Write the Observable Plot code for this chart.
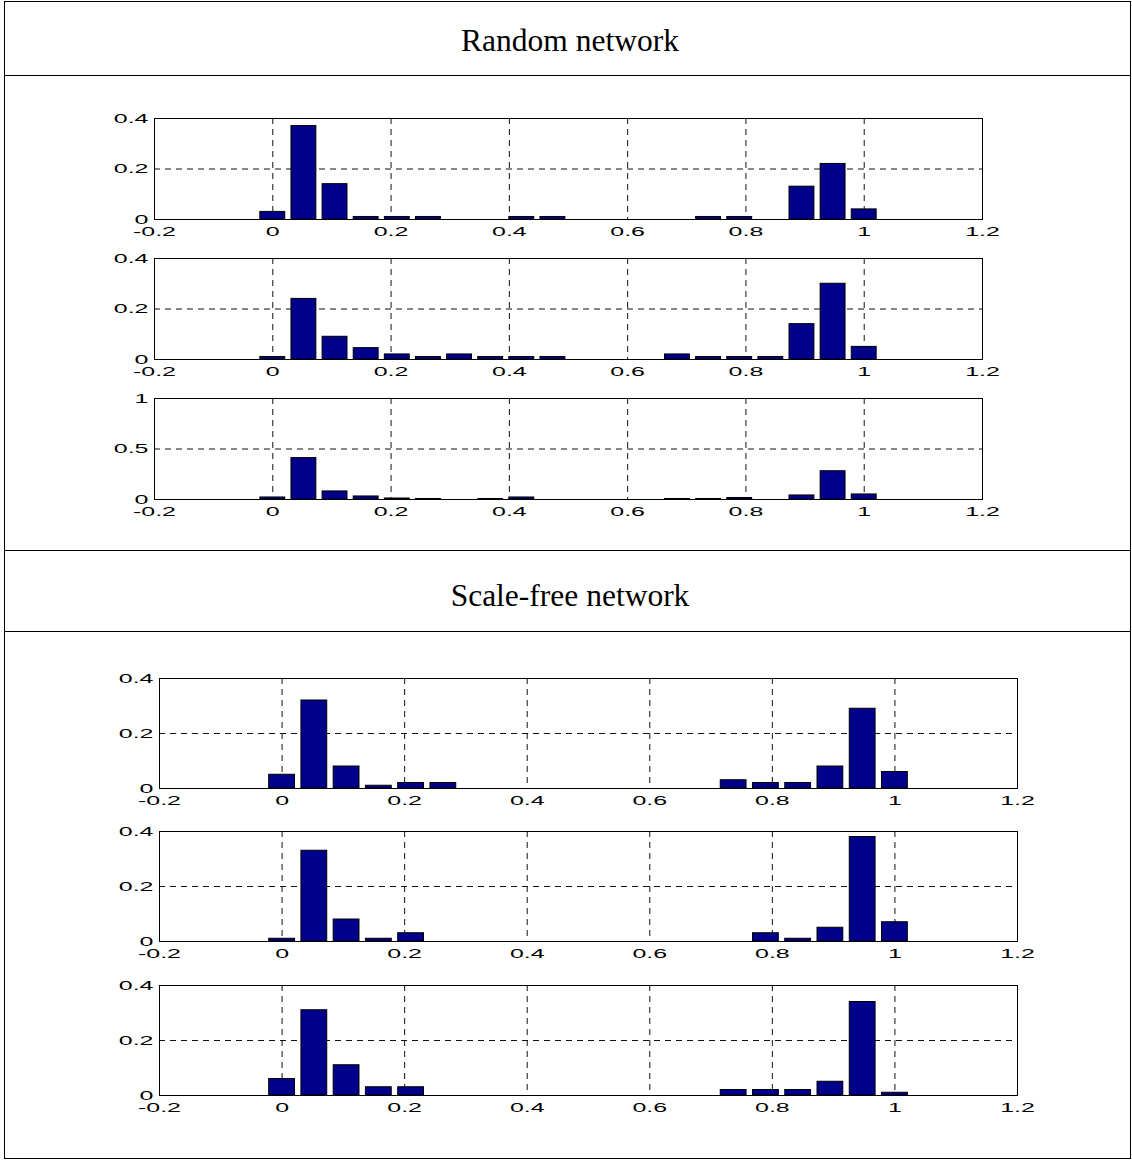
<!DOCTYPE html>
<html>
<head>
<meta charset="utf-8">
<script src="https://cdn.jsdelivr.net/npm/d3@7"></script>
<script src="https://cdn.jsdelivr.net/npm/@observablehq/plot@0.6"></script>
<style>
  html, body { margin: 0; padding: 0; background: white; }
  #page { position: relative; width: 1132px; height: 1160px; background: white; overflow: hidden; }
  .box { position: absolute; border: 1px solid black; box-sizing: border-box; }
  .hline { position: absolute; height: 0; border-top: 1px solid black; }
  .header { position: absolute; width: 1126px; left: 7px; text-align: center; line-height: 36px;
            font-family: "Liberation Serif", "Times New Roman", serif; font-size: 31.5px; color: black; }
  .panel { position: absolute; left: 0; }
</style>
</head>
<body>
<div id="page">
  <div class="box" style="left:4px; top:1px; width:1127px; height:1158px;"></div>
  <div class="hline" style="left:4px; width:1127px; top:75px;"></div>
  <div class="hline" style="left:4px; width:1127px; top:550px;"></div>
  <div class="hline" style="left:4px; width:1127px; top:631px;"></div>
  <div class="header" id="h1" style="top:23px;"></div>
  <div class="header" id="h2" style="top:578px;"></div>
</div>
<script>
// ---------- data ----------
const sectionTitles = ["Random network", "Scale-free network"];
// 20 histogram bins whose centres run from 0 to 1
const binCenters = d3.range(20).map(k => k / 19);

const randomNet1 = [0.03, 0.37, 0.14, 0.01, 0.01, 0.01, 0, 0, 0.01, 0.01, 0, 0, 0, 0, 0.01, 0.01, 0, 0.13, 0.22, 0.04];
const randomNet2 = [0.01, 0.24, 0.09, 0.045, 0.02, 0.01, 0.02, 0.01, 0.01, 0.01, 0, 0, 0, 0.02, 0.01, 0.01, 0.01, 0.14, 0.30, 0.05];
const randomNet3 = [0.02, 0.41, 0.08, 0.03, 0.01, 0.005, 0, 0.005, 0.02, 0, 0, 0, 0, 0.005, 0.005, 0.015, 0, 0.04, 0.28, 0.05];
const scaleFree1 = [0.05, 0.32, 0.08, 0.01, 0.02, 0.02, 0, 0, 0, 0, 0, 0, 0, 0, 0.03, 0.02, 0.02, 0.08, 0.29, 0.06];
const scaleFree2 = [0.01, 0.33, 0.08, 0.01, 0.03, 0, 0, 0, 0, 0, 0, 0, 0, 0, 0, 0.03, 0.01, 0.05, 0.38, 0.07];
const scaleFree3 = [0.06, 0.31, 0.11, 0.03, 0.03, 0, 0, 0, 0, 0, 0, 0, 0, 0, 0.02, 0.02, 0.02, 0.05, 0.34, 0.01];

const xTicks = [-0.2, 0, 0.2, 0.4, 0.6, 0.8, 1, 1.2];
const xGrid = [0, 0.2, 0.4, 0.6, 0.8, 1];
const yTicksSmall = [0, 0.2, 0.4];
const yGridSmall = [0.2];
const yTicksLarge = [0, 0.5, 1];
const yGridLarge = [0.5];

// ---------- drawing ----------
document.getElementById("h1").textContent = sectionTitles[0];
document.getElementById("h2").textContent = sectionTitles[1];

const BAR_COLOR = "#00008b";
const barHalf = 0.8 / 19 / 2;
const MT = 10, MB = 28;

function panel(values, opts) {
  const data = values.map((v, i) => ({x: binCenters[i], v})).filter(d => d.v > 0);
  return Plot.plot({
    width: 1132,
    height: MT + opts.frameH + MB,
    marginLeft: opts.left,
    marginRight: opts.right,
    marginTop: MT,
    marginBottom: MB,
    x: {domain: [-0.2, 1.2]},
    y: {domain: [0, opts.yMax]},
    style: {fontFamily: "'Liberation Sans', Arial, sans-serif", fontSize: "13.5px", color: "black", background: "transparent", overflow: "visible"},
    marks: [
      Plot.gridX(xGrid, {stroke: "#111", strokeOpacity: 1, strokeDasharray: "6,5"}),
      Plot.gridY(opts.yGrid, {stroke: "#111", strokeOpacity: 1, strokeDasharray: "6,5"}),
      Plot.rectY(data, {x1: d => d.x - barHalf, x2: d => d.x + barHalf, y: "v", fill: BAR_COLOR, stroke: "black", strokeWidth: 1}),
      Plot.frame({stroke: "black", strokeWidth: 1}),
      Plot.axisX(xTicks, {tickSize: 0, tickPadding: 7, tickFormat: d => String(d), label: null, fill: "black"}),
      Plot.axisY(opts.yTicks, {tickSize: 0, tickPadding: 6, tickFormat: d => String(d), label: null, fill: "black"})
    ]
  });
}

const panels = [
  {values: randomNet1, top: 118, frameH: 101, left: 154, right: 150, yMax: 0.4, yTicks: yTicksSmall, yGrid: yGridSmall},
  {values: randomNet2, top: 258, frameH: 101, left: 154, right: 150, yMax: 0.4, yTicks: yTicksSmall, yGrid: yGridSmall},
  {values: randomNet3, top: 398, frameH: 101, left: 154, right: 150, yMax: 1, yTicks: yTicksLarge, yGrid: yGridLarge},
  {values: scaleFree1, top: 678, frameH: 110, left: 159, right: 115, yMax: 0.4, yTicks: yTicksSmall, yGrid: yGridSmall},
  {values: scaleFree2, top: 831, frameH: 110, left: 159, right: 115, yMax: 0.4, yTicks: yTicksSmall, yGrid: yGridSmall},
  {values: scaleFree3, top: 985, frameH: 110, left: 159, right: 115, yMax: 0.4, yTicks: yTicksSmall, yGrid: yGridSmall}
];

const page = document.getElementById("page");
for (const p of panels) {
  const div = document.createElement("div");
  div.className = "panel";
  div.style.top = (p.top - MT) + "px";
  div.appendChild(panel(p.values, p));
  page.appendChild(div);
  // widen tick labels to the stretched look of the original
  div.querySelectorAll("text").forEach(t => {
    const w = t.getComputedTextLength();
    if (w > 0) {
      t.setAttribute("textLength", (w * 1.85).toFixed(1));
      t.setAttribute("lengthAdjust", "spacingAndGlyphs");
    }
  });
}
</script>
</body>
</html>
